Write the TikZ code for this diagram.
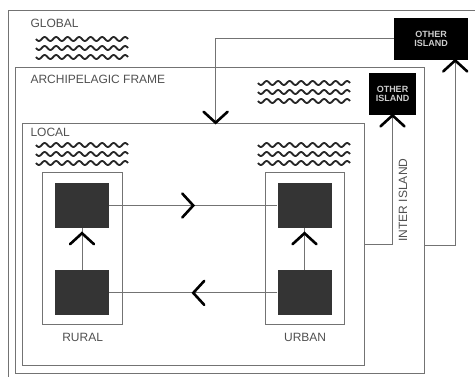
\documentclass[tikz,border=0pt]{standalone}
\usepackage{fontspec}
\setmainfont{Liberation Sans}
\usetikzlibrary{positioning,decorations.markings}

\definecolor{framegray}{RGB}{115,115,115}
\definecolor{textgray}{RGB}{80,80,80}
\definecolor{boxgray}{RGB}{52,52,52}
\definecolor{isletext}{RGB}{205,205,205}

\begin{document}
\begin{tikzpicture}[x=1pt,y=-1pt,
  frame/.style = {draw=framegray, line width=1.2pt, inner sep=0pt, anchor=north west},
  flow/.style = {draw=framegray, line width=1pt},
  lbl/.style = {text=textgray, font=\fontsize{12}{12}\selectfont},
  sq/.style = {fill=boxgray, minimum width=54pt, minimum height=45pt, inner sep=0pt},
  isle/.style = {fill=black, text=isletext, font=\bfseries\fontsize{9}{9.5}\selectfont,
                 align=center, inner sep=0pt, minimum height=42pt},
  wave/.style = {black!85, line width=1.8pt},
  chev/.style = {postaction={decorate, decoration={markings, mark=at position #1 with
                 {\draw[black, line width=2.6pt, line cap=round] (-11pt,12pt) -- (0pt,0pt) -- (-11pt,-12pt);}}}}]
     \useasboundingbox (0,0) rectangle (475,377);
     \clip (0,0) rectangle (475,377);
     \node[frame, minimum width=482pt, minimum height=382pt] (global) at (8,10) {};
     \node[frame, minimum width=409pt, minimum height=306pt] (archi) at (15,67) {};
     \node[frame, minimum width=342pt, minimum height=242pt] (local) at (22,123) {};
     \node[frame, minimum width=80pt, minimum height=152pt] (rural) at (42,172) {};
     \node[frame, minimum width=79pt, minimum height=152pt] (urban) at (265,172) {};

     \node[lbl, anchor=base west] (globaltxt) at (27,28) {GLOBAL};
     \node[lbl, anchor=base west] (architxt) at (27,84) {ARCHIPELAGIC FRAME};
     \node[lbl, anchor=base west] (localtxt) at (27,137) {LOCAL};
     \node[lbl] (ruraltxt) [below=5pt of rural] {RURAL};
     \node[lbl] (urbantxt) [below=5pt of urban] {URBAN};
     \node[lbl, rotate=90] (intertxt) at (403,200) {INTER ISLAND};

     \foreach \wx/\wy in {36/39, 258/83, 36/145, 258/145}
       \foreach \r in {0,1,2}
         \draw[wave] plot[domain=0:92, samples=97, smooth] ({\wx+\x}, {\wy+9*\r+2*sin(31.3043*\x)});

     \node[sq] (rtop) at (82,205.5) {};
     \node[sq] (rbot) [below=42pt of rtop] {};
     \node[sq] (utop) at (304.5,205.5) {};
     \node[sq] (ubot) [below=42pt of utop] {};

     \node[isle, minimum width=74pt] (farisle) at (431,39) {OTHER\\ISLAND};
     \node[isle, minimum width=47pt] (nearisle) at (392.5,94) {OTHER\\ISLAND};

     \draw[flow, chev=0.5] (rtop) -- (utop);
     \draw[flow, chev=0.5] (ubot) -- (rbot);
     \draw[flow, chev=0.88] (rbot) -- (rtop);
     \draw[flow, chev=0.88] (ubot) -- (utop);
     \draw[flow, chev=0.999] (local.east) -| (nearisle.south);
     \draw[flow, chev=0.999] ([yshift=-25pt]archi.east) -| ([xshift=-13pt]farisle.south east);
     \draw[flow, chev=0.999] (farisle.west) -| ([xshift=22pt]local.north);
\end{tikzpicture}
\end{document}
